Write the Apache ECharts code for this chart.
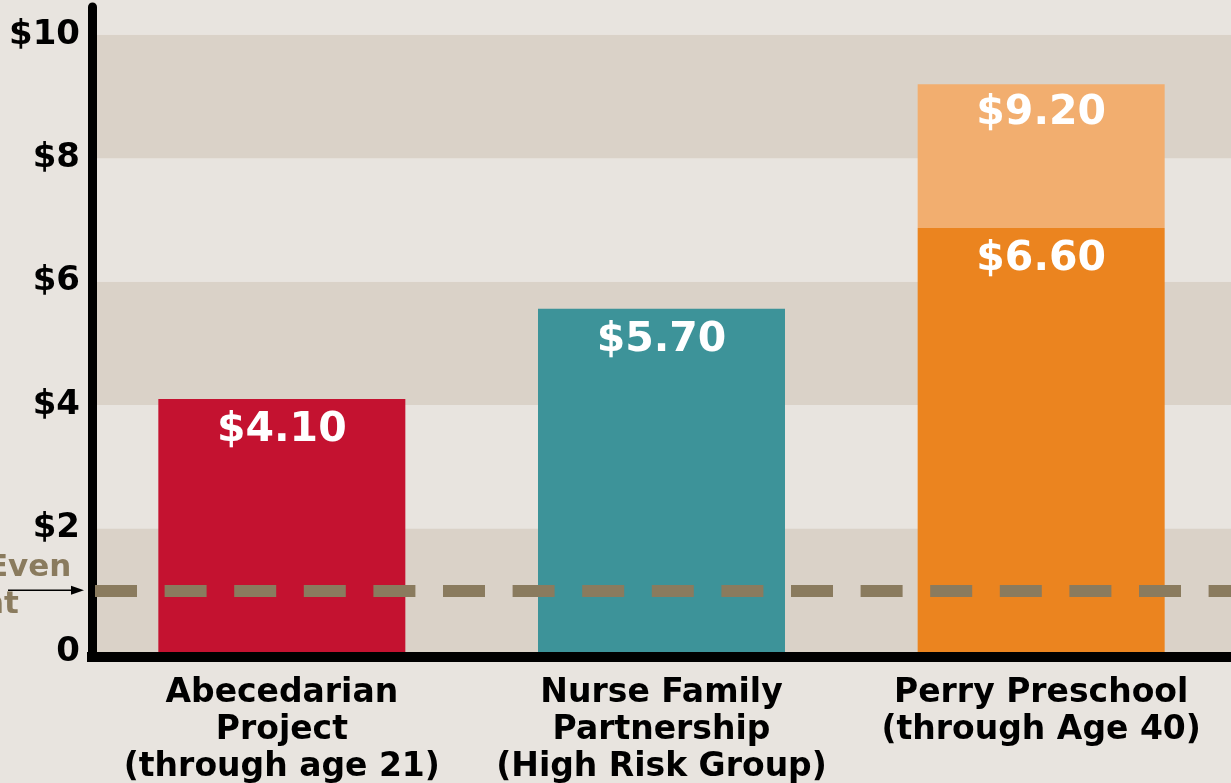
<!DOCTYPE html>
<html>
<head>
<meta charset="utf-8">
<script src="https://cdn.jsdelivr.net/npm/echarts@6/dist/echarts.min.js"></script>
<style>
  html, body { margin: 0; padding: 0; background: #e8e4df; }
  #chart { width: 1231px; height: 783px; }
</style>
</head>
<body>
<div id="chart"></div>
<script>
// programs on the x axis
const programs = [
  "Abecedarian\nProject\n(through age 21)",
  "Nurse Family\nPartnership\n(High Risk Group)",
  "Perry Preschool\n(through Age 40)",
];
// return per dollar (bar heights)
const returnValues = [4.1, 5.56, 6.87];
const returnLabels = ["$4.10", "$5.70", "$6.60"];
// extra return for Perry through age 40, stacked on top
const extraValues = [null, null, 2.33];
const extraLabels = ["", "", "$9.20"];
// break even point ($1 back per $1)
const breakEven = 1;
const yTicks = [0, 2, 4, 6, 8, 10];

const barColors = ["#c41230", "#3d9399", "#eb841f"];
const font = '"DejaVu Sans", Verdana, sans-serif';

let chart = echarts.init(document.getElementById("chart"));

const option = {
  backgroundColor: "#e8e4df",
  animation: false,
  grid: { left: 92, right: 0, top: 7, bottom: 131, outerBoundsMode: "none" },
  xAxis: {
    type: "category",
    data: programs,
    z: 10,
    offset: 5,
    axisLine: { onZero: false, lineStyle: { color: "#000", width: 10, cap: "square" } },
    axisTick: { show: false },
    axisLabel: {
      interval: 0,
      margin: 18,
      color: "#000",
      fontFamily: font,
      fontWeight: "bold",
      fontSize: 33,
      lineHeight: 37,
    },
  },
  yAxis: {
    type: "value",
    min: 0,
    max: 10.45,
    interval: 2,
    axisLine: { show: true, lineStyle: { color: "#000", width: 9 } },
    axisTick: { show: false },
    splitLine: { show: false },
    splitArea: { show: true, areaStyle: { color: ["#dad2c8", "#e8e4df"] } },
    axisLabel: {
      margin: 12,
      color: "#000",
      fontFamily: font,
      fontWeight: "bold",
      fontSize: 34,
      formatter: (v) => (yTicks.includes(v) ? (v === 0 ? "0" : "$" + v) : ""),
    },
  },
  series: [
    {
      name: "return",
      type: "bar",
      stack: "total",
      barWidth: 247,
      data: returnValues.map((v, i) => ({
        value: v,
        itemStyle: { color: barColors[i] },
      })),
      label: {
        show: true,
        position: "insideTop",
        distance: 11,
        color: "#fff",
        fontFamily: font,
        fontWeight: "bold",
        fontSize: 41,
        formatter: (p) => returnLabels[p.dataIndex],
      },
    },
    {
      name: "extra",
      type: "bar",
      stack: "total",
      barWidth: 247,
      itemStyle: { color: "#f2ae6f" },
      data: extraValues,
      label: {
        show: true,
        position: "insideTop",
        distance: 9,
        color: "#fff",
        fontFamily: font,
        fontWeight: "bold",
        fontSize: 41,
        formatter: (p) => extraLabels[p.dataIndex],
      },
      markLine: {
        silent: true,
        symbol: "none",
        label: { show: false },
        lineStyle: {
          color: "#8a7b5e",
          width: 12,
          type: [42, 27.6],
          dashOffset: -3,
        },
        data: [{ yAxis: breakEven }],
      },
    },
  ],
};

chart.setOption(option, true);

// break even annotation, placed from the axis scale
const yBE = chart.convertToPixel({ yAxisIndex: 0 }, breakEven);
chart.setOption({
  graphic: [
    {
      type: "text",
      x: -27,
      y: yBE - 4,
      style: {
        text: "Break Even\nPoint",
        align: "center",
        verticalAlign: "middle",
        font: "bold 31px " + font,
        lineHeight: 37,
        fill: "#8a7b5e",
      },
    },
    {
      type: "line",
      shape: { x1: 8, y1: yBE, x2: 76, y2: yBE },
      style: { stroke: "#000", lineWidth: 1.5 },
    },
    {
      type: "polygon",
      shape: { points: [[84, yBE], [71, yBE - 4.5], [71, yBE + 4.5]] },
      style: { fill: "#000" },
    },
  ],
});

window.addEventListener("resize", () => {
  chart.resize();
});
</script>
</body>
</html>
